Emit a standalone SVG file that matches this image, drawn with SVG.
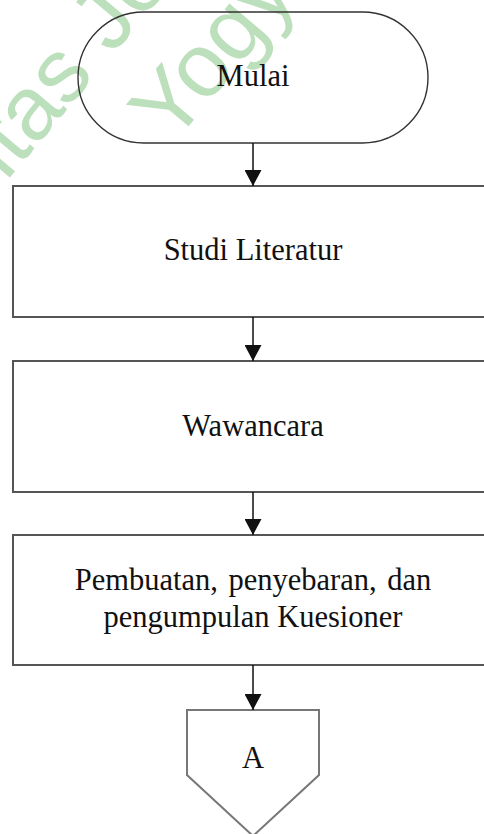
<svg xmlns="http://www.w3.org/2000/svg" width="484" height="834" viewBox="0 0 484 834">
<style>
.lbl{font-family:"Liberation Serif","Times New Roman",serif;font-size:30.5px;fill:#111;text-anchor:middle}
.wm{font-family:"Liberation Sans",Arial,sans-serif;font-size:90px;fill:#bcdfbc}
.box{fill:#fff;stroke:#555;stroke-width:2}
.term{fill:none;stroke:#333;stroke-width:1.4}
.off{fill:#fff;stroke:#777;stroke-width:2}
.conn{stroke:#111;stroke-width:1.5;fill:none}
</style>
<defs>
<marker id="arr" viewBox="0 0 16 17" refX="16" refY="8.5" markerWidth="16" markerHeight="17" markerUnits="userSpaceOnUse" orient="auto">
<path d="M0,0 L16,8.5 L0,17 z" fill="#111"/>
</marker>
</defs>
<rect width="484" height="834" fill="#fff"/>
<g id="watermark">
<text class="wm" transform="translate(6,182) rotate(-50)" x="-75">rsitas Je</text>
<text class="wm" transform="translate(172,146) rotate(-50)">Yogy</text>
</g>
<g id="start">
<rect class="term" x="78" y="12" width="350" height="131" rx="65.5" ry="65.5"/>
<text class="lbl" x="253" y="86">Mulai</text>
</g>
<g id="studi">
<rect class="box" x="13" y="186" width="480" height="131" fill="none"/>
<text class="lbl" x="253" y="260">Studi Literatur</text>
</g>
<g id="wawancara">
<rect class="box" x="13" y="361" width="480" height="131"/>
<text class="lbl" x="253" y="436">Wawancara</text>
</g>
<g id="kuesioner">
<rect class="box" x="13" y="535" width="480" height="130"/>
<text class="lbl" x="253" y="590" word-spacing="3">Pembuatan, penyebaran, dan</text>
<text class="lbl" x="253" y="627">pengumpulan Kuesioner</text>
</g>
<g id="offpage-A">
<polygon class="off" points="187,710 319,710 319,775 253,836 187,775"/>
<text class="lbl" x="253" y="768">A</text>
</g>
<g id="connectors">
<line class="conn" x1="253" y1="143" x2="253" y2="186" marker-end="url(#arr)"/>
<line class="conn" x1="253" y1="317" x2="253" y2="361" marker-end="url(#arr)"/>
<line class="conn" x1="253" y1="492" x2="253" y2="535" marker-end="url(#arr)"/>
<line class="conn" x1="253" y1="665" x2="253" y2="710" marker-end="url(#arr)"/>
</g>
</svg>
